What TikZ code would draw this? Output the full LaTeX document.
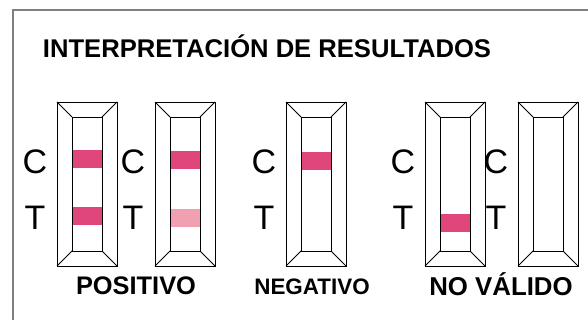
\documentclass[tikz,border=0pt]{standalone}
\usepackage{fontspec}
\setmainfont{Liberation Sans}
\definecolor{bandpink}{RGB}{224,69,123}
\definecolor{bandlight}{RGB}{240,160,176}
\definecolor{framegray}{RGB}{128,128,128}
\tikzset{
  stripline/.style={black,line width=0.9pt},
  band/.style={fill=#1,draw=none},
  letter/.style={font=\fontsize{34}{34}\selectfont,inner sep=0pt},
  result/.style={font=\bfseries\fontsize{#1}{#1}\selectfont,inner sep=0pt},
}
\begin{document}
\begin{tikzpicture}[x=1pt,y=-1pt]
  \useasboundingbox (0,0) rectangle (588,320);
  \draw[framegray,line width=1.5pt] (13,325) -- (13,10) -- (595,10);
  \node[result=25.6] (title) at (267,46) {INTERPRETACIÓN DE RESULTADOS};
  % strips: outer left edge
  \foreach \x in {57,155,286,425,518} {
    \draw[stripline] (\x,102) rectangle (\x+60,266);
    \draw[stripline] (\x+15,117) rectangle (\x+45,251);
    \draw[stripline] (\x,102) -- (\x+15,117);
    \draw[stripline] (\x+60,102) -- (\x+45,117);
    \draw[stripline] (\x,266) -- (\x+15,251);
    \draw[stripline] (\x+60,266) -- (\x+45,251);
    \node[letter] (c\x) at (\x-22,162) {C};
    \node[letter] (t\x) at (\x-22,218) {T};
  }
  % bands
  \fill[bandpink] (72.5,150) rectangle (101.5,168);
  \fill[bandpink] (72.5,207) rectangle (101.5,225);
  \fill[bandpink] (170.5,151) rectangle (199.5,169);
  \fill[bandlight] (170.5,209) rectangle (199.5,227);
  \fill[bandpink] (301.5,152) rectangle (330.5,170);
  \fill[bandpink] (440.5,214) rectangle (469.5,232);
  \node[result=25.4] (pos) at (136,286) {POSITIVO};
  \node[result=22.4] (neg) at (312,287) {NEGATIVO};
  \node[result=25.8] (inv) at (501,284) {NO VÁLIDO};
\end{tikzpicture}
\end{document}
